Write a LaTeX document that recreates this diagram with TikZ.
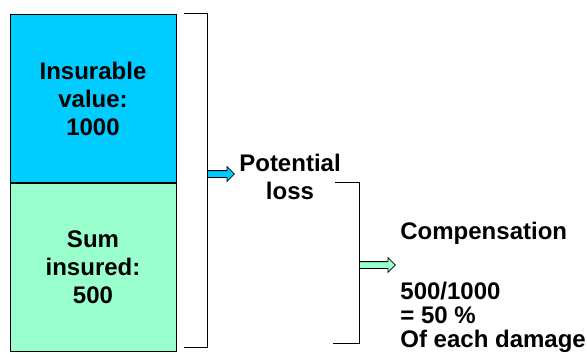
\documentclass[tikz,border=0pt]{standalone}
\usepackage{fontspec}
\setmainfont{Liberation Sans}
\usetikzlibrary{positioning,shapes.arrows}
\definecolor{insblue}{HTML}{00CCFF}
\definecolor{summint}{HTML}{99FFCC}

\begin{document}
\begin{tikzpicture}[x=0.5pt, y=-0.5pt,
    every node/.style={font=\bfseries\fontsize{12}{14}\selectfont, align=center},
    valuebox/.style={draw, line width=0.5pt, minimum width=83pt, minimum height=84pt, inner sep=0pt},
    blockarrow/.style={single arrow, draw, line width=0.4pt, inner sep=1.5pt,
        single arrow head extend=2pt, anchor=tail}]
    \useasboundingbox (0,0) rectangle (587,358);

    \node[valuebox, fill=insblue, anchor=north] at (93,14) (insurable) {Insurable\\ value:\\ 1000};
    \node[valuebox, fill=summint, below=0pt of insurable] (suminsured) {Sum\\ insured:\\ 500};

    % brackets
    \coordinate (lossin) at (207,174);
    \coordinate (compin) at (359,265);
    \draw[line width=0.5pt] (184,14) -| (207,347) -- (184,347);
    \draw[line width=0.5pt] (335,182) -| (359,343) -- (333,343);

    \node[blockarrow, fill=insblue, minimum height=13.5pt] at (lossin) (lossarrow) {};
    \node[blockarrow, fill=summint, minimum height=18pt] at (compin) (comparrow) {};

    \node at (290,177) (loss) {Potential\\ loss};
    \node[anchor=west, inner sep=0pt] at (400,233) (comp) {Compensation};
    \node[anchor=west, align=left, inner sep=0pt,
        font=\bfseries\fontsize{12}{12}\selectfont] at (400,317) (share) {500/1000\\ = 50 \%\\ Of each damage};
\end{tikzpicture}
\end{document}
